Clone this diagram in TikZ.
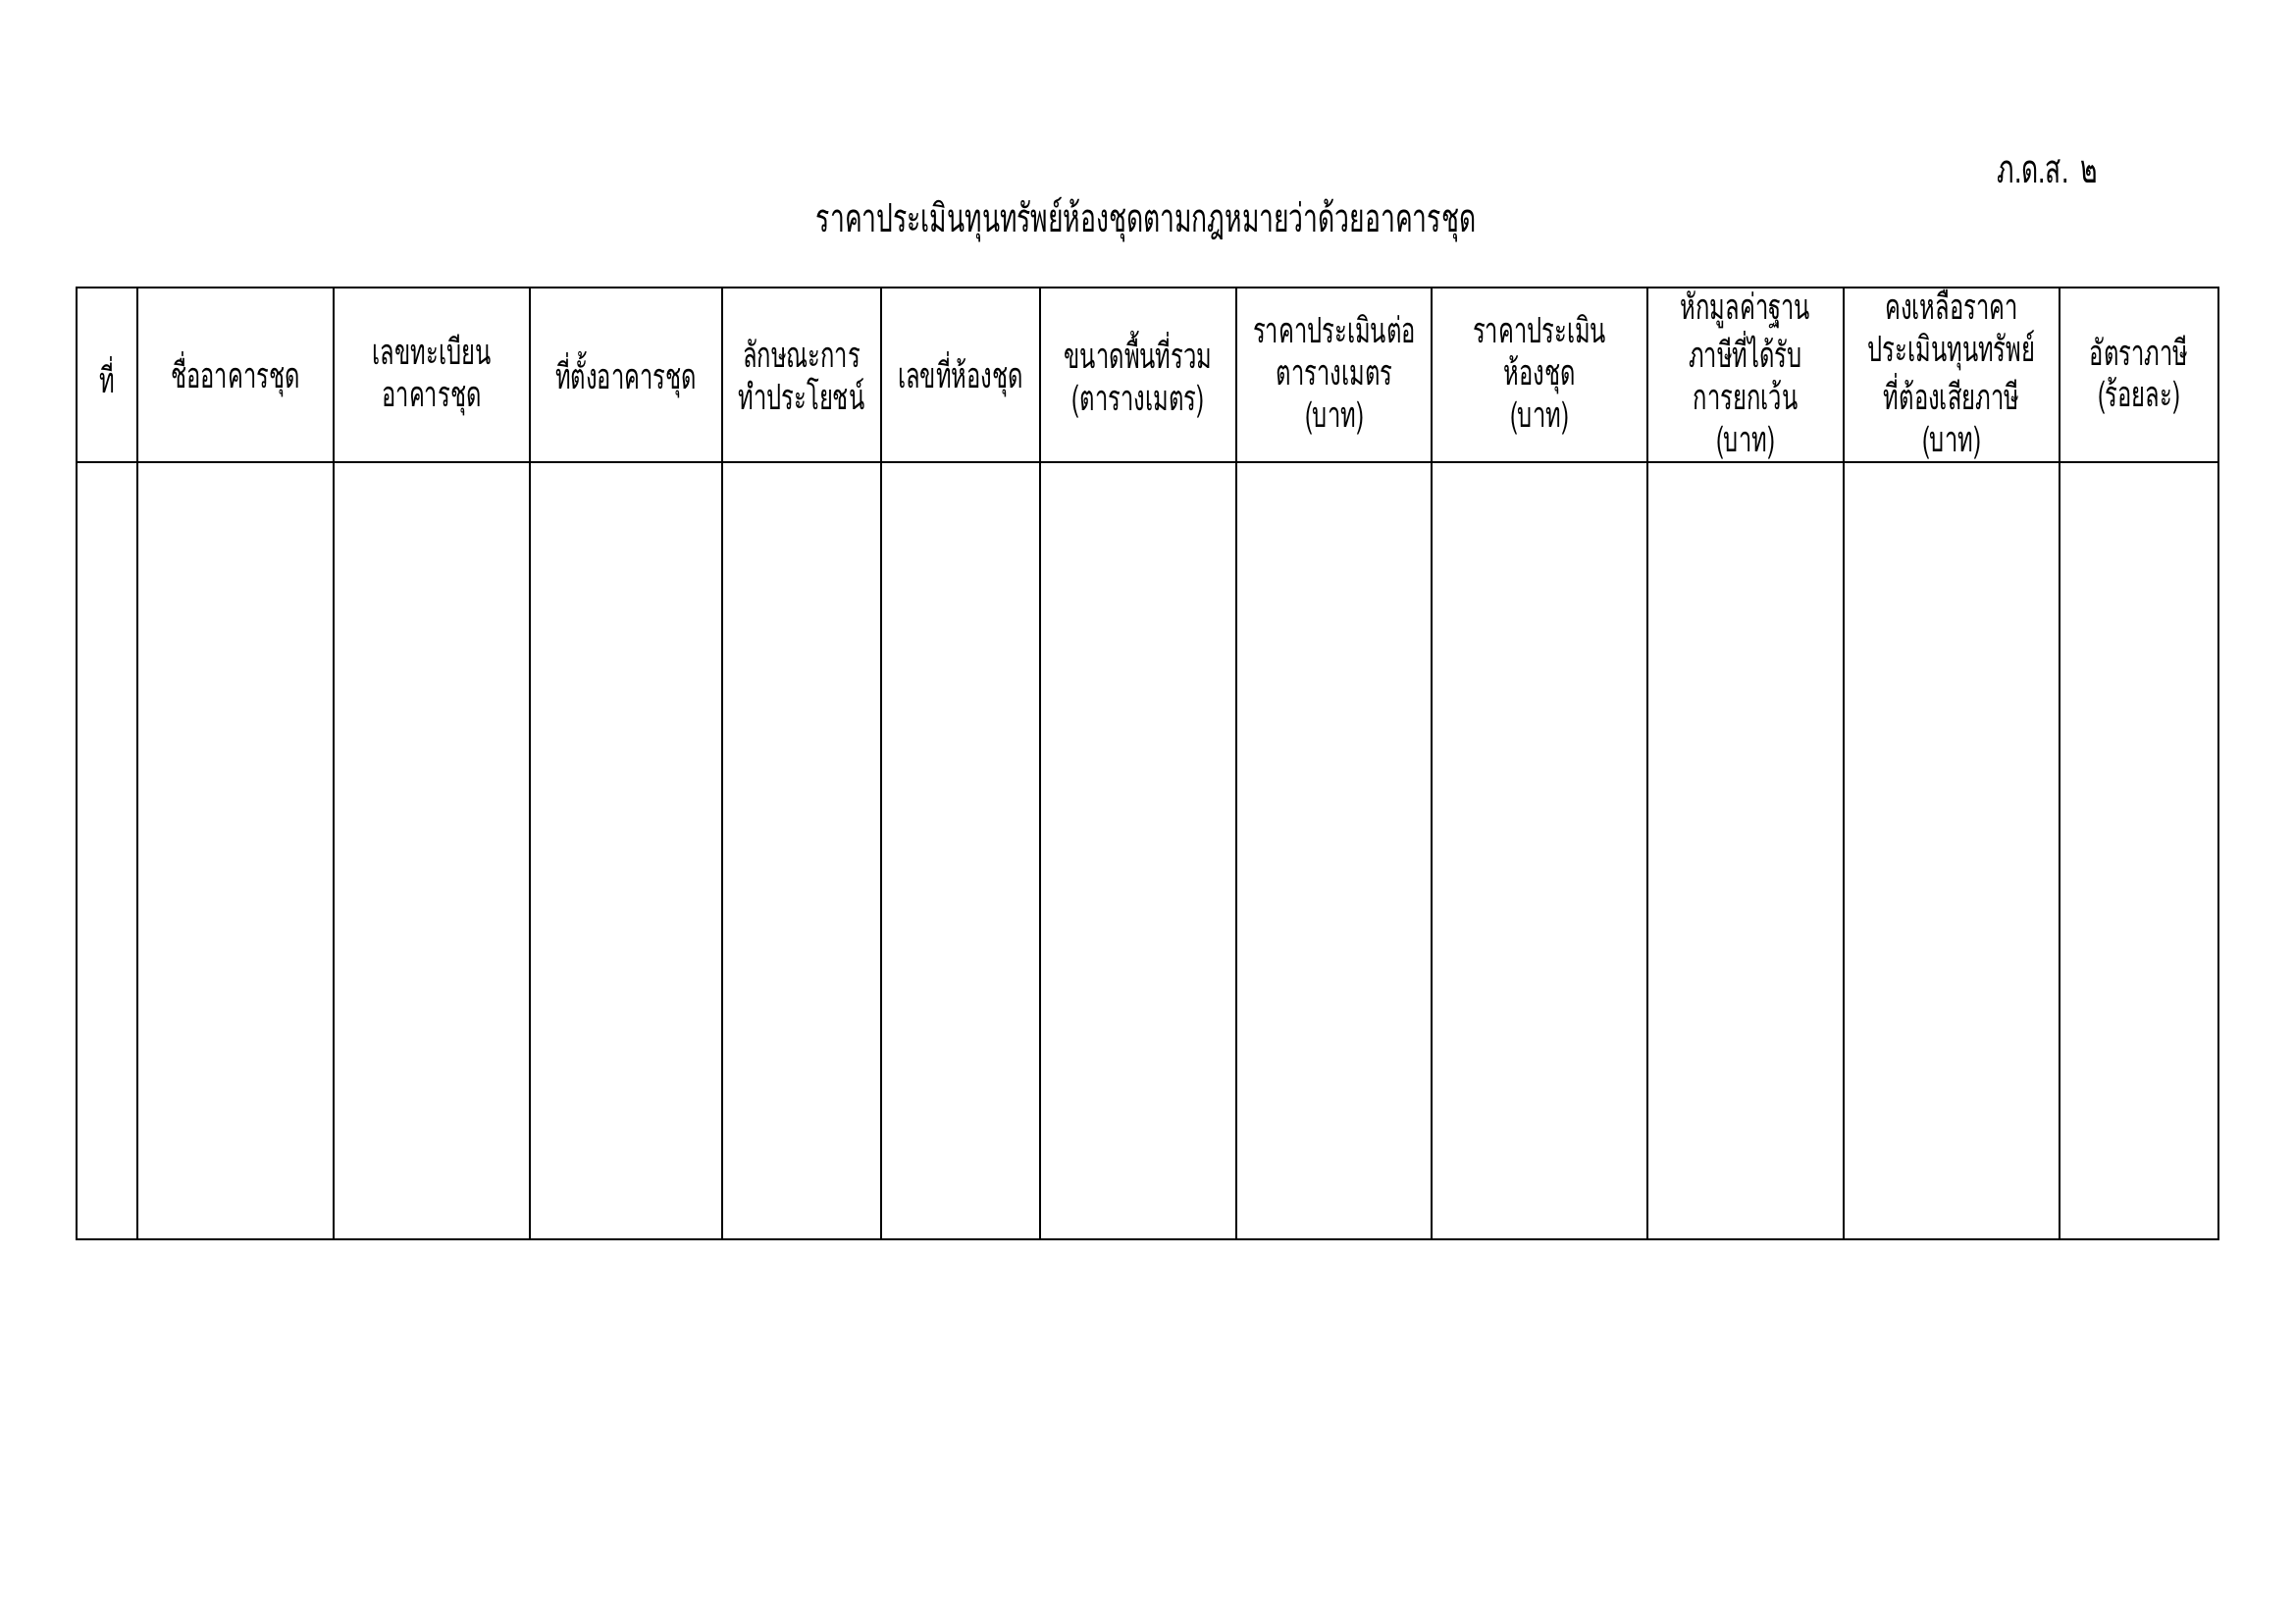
\documentclass[tikz,border=0pt]{standalone}
\usepackage{fontspec}
\newfontfamily\thaifont[Script=Thai, FakeStretch=0.66]{Loma}
\usetikzlibrary{positioning}
\tikzset{
  headcell/.style={font=\thaifont\fontsize{13}{15.5}\selectfont, align=center, inner sep=0pt},
  titletext/.style={font=\thaifont\fontsize{14.5}{17}\selectfont, inner sep=0pt},
  thinrule/.style={line width=0.4pt},
  thickrule/.style={line width=0.8pt}
}
\begin{document}
\begin{tikzpicture}[x=0.0127cm, y=-0.0127cm]
    % Page
    \useasboundingbox (0,0) rectangle (2339,1654);

    % Form number and title
    \node[titletext, anchor=base west] (formno) at (2035,187) {ภ.ด.ส. ๒};
    \node[titletext, anchor=base] (title) at (1168,237) {ราคาประเมินทุนทรัพย์ห้องชุดตามกฎหมายว่าด้วยอาคารชุด};

    % Column rules
    \foreach \x in {736,1060,1260,1459,1679,1879}
        \draw[thinrule] (\x,293) -- (\x,1263);
    \foreach \x in {140,340,540,898,2099}
        \draw[thickrule] (\x,293) -- (\x,1263);

    % Header rule and frame
    \draw[thickrule] (78,471) -- (2261,471);
    \draw[line width=1pt] (78,293) rectangle (2261,1263);

    % Header cells
    \node[headcell] (no)     at (109,382)  {ที่};
    \node[headcell] (name)   at (240,382)  {ชื่ออาคารชุด};
    \node[headcell] (regno)  at (440,382)  {เลขทะเบียน\\อาคารชุด};
    \node[headcell] (place)  at (638,382)  {ที่ตั้งอาคารชุด};
    \node[headcell] (use)    at (817,382)  {ลักษณะการ\\ทำประโยชน์};
    \node[headcell] (room)   at (979,382)  {เลขที่ห้องชุด};
    \node[headcell] (area)   at (1160,382) {ขนาดพื้นที่รวม\\(ตารางเมตร)};
    \node[headcell] (sqm)    at (1360,382) {ราคาประเมินต่อ\\ตารางเมตร\\(บาท)};
    \node[headcell] (value)  at (1569,382) {ราคาประเมิน\\ห้องชุด\\(บาท)};
    \node[headcell] (exempt) at (1779,382) {หักมูลค่าฐาน\\ภาษีที่ได้รับ\\การยกเว้น\\(บาท)};
    \node[headcell] (remain) at (1989,382) {คงเหลือราคา\\ประเมินทุนทรัพย์\\ที่ต้องเสียภาษี\\(บาท)};
    \node[headcell] (rate)   at (2180,382) {อัตราภาษี\\(ร้อยละ)};
\end{tikzpicture}
\end{document}
